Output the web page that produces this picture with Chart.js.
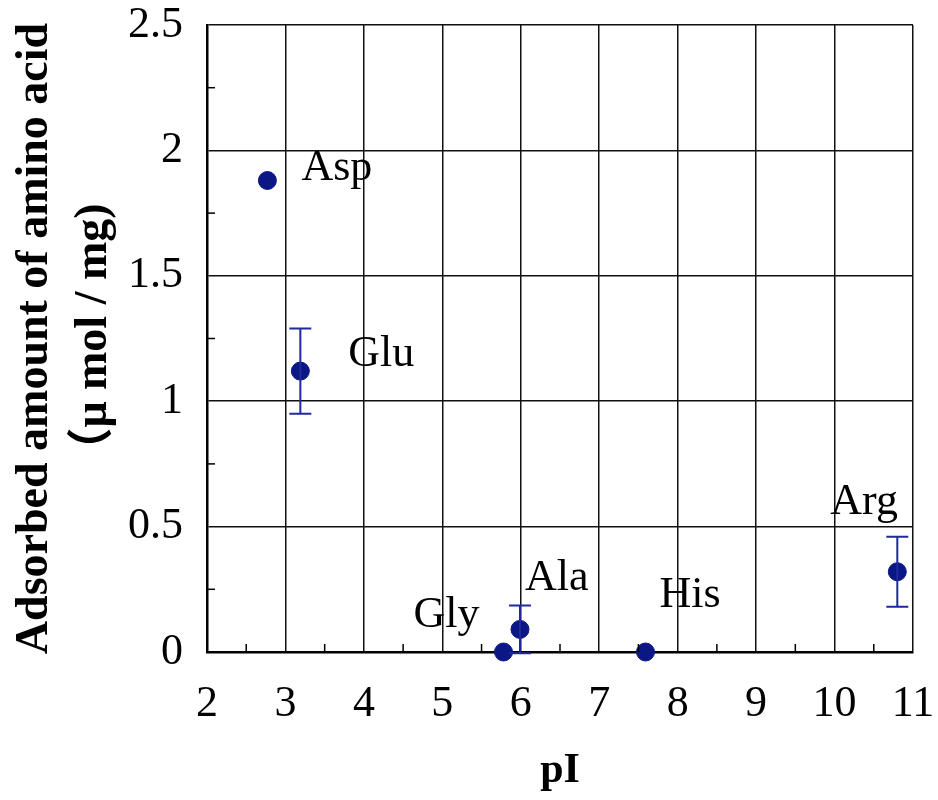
<!DOCTYPE html>
<html>
<head>
<meta charset="utf-8">
<script src="https://cdn.jsdelivr.net/npm/chart.js@4/dist/chart.umd.min.js"></script>
<style>
  html, body { margin: 0; padding: 0; background: #fff; }
  #wrap { width: 938px; height: 800px; }
</style>
</head>
<body>
<div id="wrap"><canvas id="chart" width="938" height="800"></canvas></div>
<script>
// amino acids and their values
const acids = ['Asp', 'Glu', 'Gly', 'Ala', 'His', 'Arg'];
const pI = [2.77, 3.19, 5.78, 5.99, 7.59, 10.8];
const adsorbed = [1.88, 1.12, 0.0, 0.09, 0.0, 0.32];
const errors = [0, 0.17, 0, 0.095, 0, 0.14];

const xTicks = [2, 3, 4, 5, 6, 7, 8, 9, 10, 11];
const yTicks = [0, 0.5, 1, 1.5, 2, 2.5];

// label offsets in pixels from the point (left edge, vertical centre)
const labelOffset = [[34, -12], [48, -17], [-90, -37], [5, -51], [14, -57], [-67, -69]];

const navy = '#0b1784';
const serif = '"Liberation Serif", "Times New Roman", "Noto Sans CJK JP", serif';

// error bars, minor ticks and point labels
const extras = {
  id: 'extras',
  afterDatasetsDraw(chart) {
    const { ctx, scales: { x, y }, chartArea } = chart;
    ctx.save();

    // minor ticks inside the frame
    ctx.strokeStyle = '#000';
    ctx.lineWidth = 1.5;
    for (let v = 0.25; v < 2.5; v += 0.5) {
      const py = y.getPixelForValue(v);
      ctx.beginPath();
      ctx.moveTo(chartArea.left, py);
      ctx.lineTo(chartArea.left + 8, py);
      ctx.stroke();
    }
    for (let v = 2.5; v < 11; v += 1) {
      const px = x.getPixelForValue(v);
      ctx.beginPath();
      ctx.moveTo(px, chartArea.bottom);
      ctx.lineTo(px, chartArea.bottom - 8);
      ctx.stroke();
    }

    // error bars
    ctx.strokeStyle = '#1f2a9c';
    ctx.lineWidth = 2;
    pI.forEach((v, i) => {
      if (!errors[i]) return;
      const px = x.getPixelForValue(v);
      const top = y.getPixelForValue(adsorbed[i] + errors[i]);
      const bot = y.getPixelForValue(adsorbed[i] - errors[i]);
      ctx.beginPath();
      ctx.moveTo(px, top); ctx.lineTo(px, bot);
      ctx.moveTo(px - 11, top); ctx.lineTo(px + 11, top);
      ctx.moveTo(px - 11, bot); ctx.lineTo(px + 11, bot);
      ctx.stroke();
    });

    // labels
    ctx.fillStyle = '#000';
    ctx.font = '44px ' + serif;
    ctx.textBaseline = 'middle';
    acids.forEach((name, i) => {
      const px = x.getPixelForValue(pI[i]);
      const py = y.getPixelForValue(adsorbed[i]);
      ctx.fillText(name, px + labelOffset[i][0], py + labelOffset[i][1]);
    });
    ctx.restore();
  }
};

new Chart(document.getElementById('chart'), {
  type: 'scatter',
  data: {
    datasets: [{
      data: pI.map((v, i) => ({ x: v, y: adsorbed[i] })),
      backgroundColor: navy,
      borderColor: navy,
      pointRadius: 9,
      clip: false
    }]
  },
  options: {
    responsive: false,
    animation: false,
    layout: { padding: { top: 25, right: 25, left: 0, bottom: 0 } },
    plugins: { legend: { display: false }, tooltip: { enabled: false } },
    scales: {
      x: {
        type: 'linear',
        min: 2, max: 11,
        afterBuildTicks: s => { s.ticks = xTicks.map(v => ({ value: v })); },
        afterFit: s => { s.height = 148; s.paddingLeft = 0; s.paddingRight = 0; },
        grid: { color: '#111', lineWidth: 1.5, drawTicks: false },
        border: { color: '#000', width: 2.5 },
        ticks: { color: '#000', padding: 26, font: { family: serif, size: 44 },
                 callback: v => String(v) },
        title: { display: true, text: 'pI', color: '#000', padding: { top: 2 },
                 font: { family: serif, size: 42, weight: 'bold' } }
      },
      y: {
        min: 0, max: 2.5,
        afterBuildTicks: s => { s.ticks = yTicks.map(v => ({ value: v })); },
        afterFit: s => { s.width = 207; s.paddingTop = 0; s.paddingBottom = 0; },
        grid: { color: '#111', lineWidth: 1.5, drawTicks: false },
        border: { color: '#000', width: 2.5 },
        ticks: { color: '#000', padding: 24, font: { family: serif, size: 44 },
                 callback: v => String(v) },
        title: { display: true, text: ['Adsorbed amount of amino acid', '\uff08\u03bc mol / mg)'],
                 color: '#000', padding: { top: 6, bottom: 0 },
                 font: { family: serif, size: 46, weight: 'bold', lineHeight: 1.28 } }
      }
    }
  },
  plugins: [extras]
});
</script>
</body>
</html>
